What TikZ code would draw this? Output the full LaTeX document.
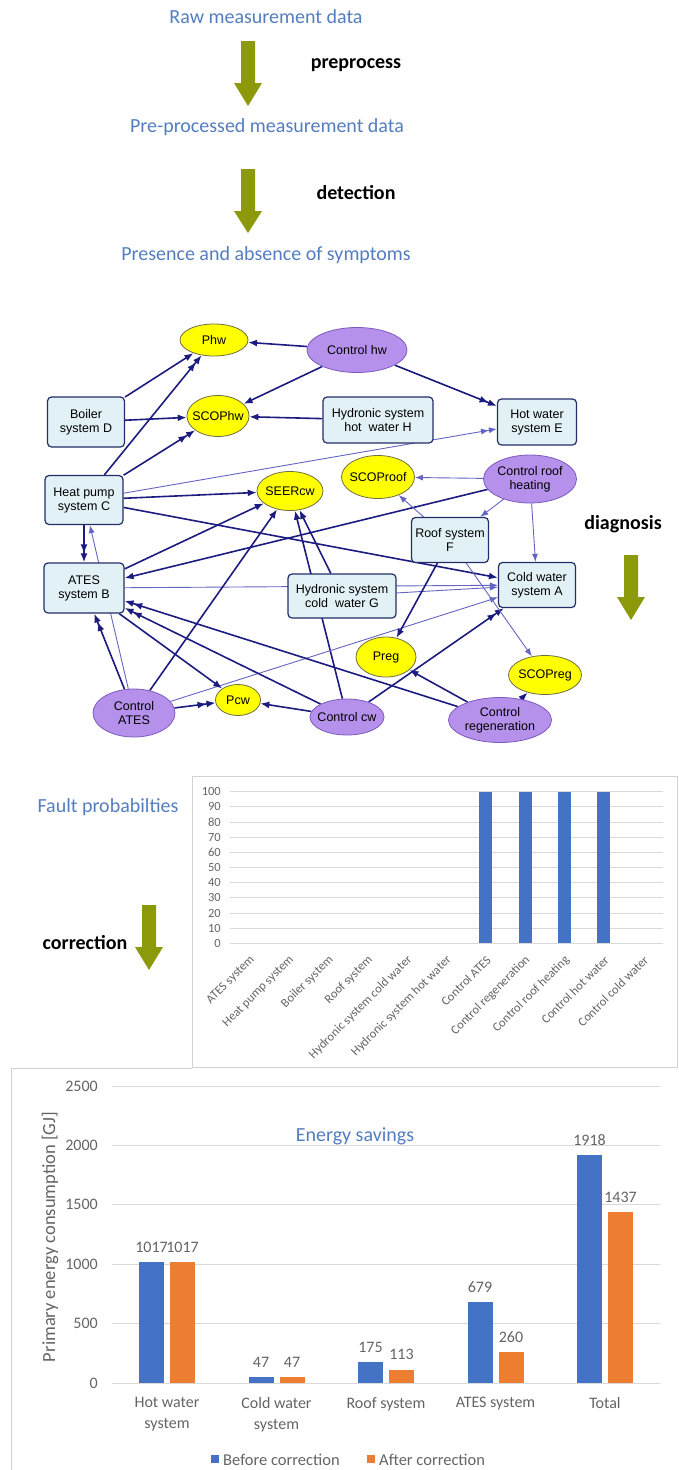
\documentclass[tikz,border=0pt]{standalone}
\usepackage{fontspec}
\setmainfont{Carlito}
\newfontfamily\arialf{Liberation Sans}
\usetikzlibrary{shapes.geometric,arrows.meta,backgrounds}
\definecolor{lblue}{RGB}{84,125,192}
\definecolor{olivec}{RGB}{140,153,10}
\definecolor{navy}{RGB}{28,28,128}
\definecolor{thinc}{RGB}{100,100,195}
\definecolor{yelfill}{RGB}{255,255,0}
\definecolor{yeldraw}{RGB}{110,110,70}
\definecolor{purfill}{RGB}{182,145,235}
\definecolor{purdraw}{RGB}{125,90,190}
\definecolor{boxfill}{RGB}{226,241,246}
\definecolor{boxdraw}{RGB}{35,45,105}
\definecolor{axgray}{RGB}{100,100,100}
\definecolor{gridc}{RGB}{217,217,217}
\definecolor{barblue}{RGB}{68,114,196}
\definecolor{barorange}{RGB}{237,125,49}
\definecolor{framec}{RGB}{210,210,210}
\newcommand\zb[1]{\makebox[0pt]{#1}}
\newcommand\olivearrow[4]{%
  \fill[olivec] (#1-7,#2) -- (#1+7,#2) -- (#1+7,#3) -- (#1+14,#3) -- (#1,#4) -- (#1-14,#3) -- (#1-7,#3) -- cycle;}
\tikzset{
  bigtxt/.style={font=\fontsize{20}{24}\selectfont, inner sep=0pt},
  bluetxt/.style={bigtxt, text=lblue},
  boldtxt/.style={font=\bfseries\fontsize{20}{24}\selectfont, inner sep=0pt},
  netfont/.style={font=\arialf\fontsize{12.5}{14}\selectfont},
  yel/.style={ellipse, draw=yeldraw, fill=yelfill, inner sep=0pt, align=center, line width=0.8pt, netfont},
  pur/.style={ellipse, draw=purdraw, fill=purfill, inner sep=0pt, align=center, line width=0.8pt, netfont},
  sysbox/.style={rectangle, rounded corners=4pt, draw=boxdraw, fill=boxfill, line width=1.2pt, align=center, inner sep=0pt, netfont},
  thk/.style={draw=navy, line width=1.6pt, -{Latex[length=9pt,width=7pt]}},
  thk2/.style={draw=navy, line width=1.6pt, -{Latex[length=9pt,width=7pt] Latex[length=9pt,width=7pt]}},
  thn/.style={draw=thinc, line width=0.9pt, -{Latex[length=8pt,width=6pt]}},
  thn2/.style={draw=thinc, line width=0.9pt, -{Latex[length=8pt,width=6pt] Latex[length=8pt,width=6pt]}},
  axlab/.style={font=\fontsize{12.5}{14}\selectfont, text=axgray, inner sep=0pt},
  exlab/.style={font=\fontsize{16}{21}\selectfont, text=axgray, inner sep=0pt},
}
\begin{document}
\begin{tikzpicture}[x=1pt,y=-1pt]
\useasboundingbox (0,0) rectangle (679,1470);
% ---------- top flow ----------
\node[bluetxt] (raw) at (266,17) {Raw measurement data};
\olivearrow{248}{41}{83}{106}
\node[boldtxt] (prep) at (356,65) {preprocess};
\node[bluetxt] (pre) at (267,127) {Pre-processed measurement data};
\olivearrow{248}{169}{211}{233}
\node[boldtxt] (det) at (356,193) {detection};
\node[bluetxt] (pres) at (266,255) {Presence and absence of symptoms};
\node[boldtxt] (diag) at (623,524) {diagnosis};
\olivearrow{631}{555}{597}{620}
% ---------- network ----------
\node[yel, minimum width=68pt, minimum height=32pt] (Phw) at (214,340) {\zb{Phw}};
\node[pur, minimum width=100pt, minimum height=45pt] (CHW) at (357,350) {\zb{Control hw}};
\node[sysbox, minimum width=77pt, minimum height=50pt] (D) at (86,422) {Boiler\\system D};
\node[yel, minimum width=62pt, minimum height=41pt] (SCOPhw) at (218,416) {\zb{SCOPhw}};
\node[sysbox, minimum width=110pt, minimum height=46pt] (H) at (378,420) {Hydronic system\\hot\ \ water H};
\node[sysbox, minimum width=79pt, minimum height=46pt] (E) at (537,422) {Hot water\\system E};
\node[sysbox, minimum width=78pt, minimum height=49pt] (C) at (84,500) {Heat pump\\system C};
\node[yel, minimum width=66pt, minimum height=39pt] (SEER) at (290,491) {\zb{SEERcw}};
\node[yel, minimum width=73pt, minimum height=43pt] (SCOProof) at (378,477) {\zb{SCOProof}};
\node[pur, minimum width=93pt, minimum height=48pt] (CRH) at (530,479) {\zb{Control roof}\\\zb{heating}};
\node[sysbox, minimum width=77pt, minimum height=45pt] (F) at (450,540) {Roof system\\F};
\node[sysbox, minimum width=80pt, minimum height=50pt] (B) at (84,588) {ATES\\system B};
\node[sysbox, minimum width=108pt, minimum height=44pt] (G) at (342,596) {Hydronic system\\cold\ \ water G};
\node[sysbox, minimum width=77pt, minimum height=45pt] (A) at (537,585) {Cold water\\system A};
\node[yel, minimum width=60pt, minimum height=40pt] (Preg) at (386,657) {\zb{Preg}};
\node[yel, minimum width=73pt, minimum height=39pt] (SCOPreg) at (545,675) {\zb{SCOPreg}};
\node[pur, minimum width=82pt, minimum height=48pt] (CA) at (134,713) {\zb{Control}\\\zb{ATES}};
\node[yel, minimum width=45pt, minimum height=31pt] (Pcw) at (238,700) {\zb{Pcw}};
\node[pur, minimum width=74pt, minimum height=36pt] (CCW) at (347,717) {\zb{Control cw}};
\node[pur, minimum width=103pt, minimum height=45pt] (CR) at (500,720) {\zb{Control}\\\zb{regeneration}};
\begin{pgfonlayer}{background}
\draw[thk] (D) -- (Phw);
\draw[thk2] (C) -- (Phw);
\draw[thk] (CHW) -- (Phw);
\draw[thk] (CHW) -- (SCOPhw);
\draw[thk] (D) -- (SCOPhw);
\draw[thk2] (C) -- (SCOPhw);
\draw[thk] (H) -- (SCOPhw);
\draw[thk2] (CHW) -- (E);
\draw[thn2] (C) -- (E);
\draw[thk] (C) -- (SEER);
\draw[thk] (C) -- (A);
\draw[thk2] (C) -- (B);
\draw[thk] (B) -- (SEER);
\draw[thk] (CRH) -- (B);
\draw[thn] (B) -- (A);
\draw[thn] (G) -- (A);
\draw[thk] (G) -- (SEER);
\draw[thk] (CCW) -- (SEER);
\draw[thk] (CA) -- (SEER);
\draw[thk2] (CA) -- (B);
\draw[thn] (CA) -- (C);
\draw[thk2] (CA) -- (Pcw);
\draw[thn] (CA) -- (A);
\draw[thk] (B) -- (Pcw);
\draw[thk2] (CR) -- (B);
\draw[thk2] (CCW) -- (B);
\draw[thk] (CCW) -- (Pcw);
\draw[thk2] (CCW) -- (A);
\draw[thk] (CR) -- (Preg);
\draw[thk] (CR) -- (SCOPreg);
\draw[thk] (F) -- (Preg);
\draw[thn] (F) -- (SCOPreg);
\draw[thn] (F) -- (SCOProof);
\draw[thn] (CRH) -- (SCOProof);
\draw[thn] (CRH) -- (F);
\draw[thn] (CRH) -- (A);
\end{pgfonlayer}
% ---------- fault probabilities ----------
\node[bluetxt] (fp) at (108,807) {Fault probabilties};
\node[boldtxt] (corr) at (85,943) {correction};
\olivearrow{149}{905}{947}{970}
\draw[framec, line width=0.8pt] (192,776) rectangle (677,1067);
\foreach \k in {0,...,10} {
  \pgfmathsetmacro\yy{943.3-15.16*\k}
  \draw[gridc, line width=0.9pt] (230,\yy) -- (663,\yy);
  \pgfmathtruncatemacro\lab{10*\k}
  \node[axlab, anchor=east] (fy\k) at (221,\yy) {\lab};
}
\foreach \i in {6,7,8,9} {
  \pgfmathsetmacro\cx{230+39.36*(\i+0.5)}
  \fill[barblue] (\cx-6.5,943.3) rectangle (\cx+6.5,791.7);
}
\foreach \i/\t in {0/ATES system,1/Heat pump system,2/Boiler system,3/Roof system,4/Hydronic system cold water,5/Hydronic system hot water,6/Control ATES,7/Control regeneration,8/Control roof heating,9/Control hot water,10/Control cold water} {
  \pgfmathsetmacro\cx{230+39.36*(\i+0.5)+3}
  \node[axlab, rotate=45, anchor=east] (fc\i) at (\cx,958) {\t};
}
% ---------- energy savings ----------
\draw[framec, line width=0.8pt] (11,1470) -- (11,1068) -- (192,1068);
\foreach \k in {0,...,5} {
  \pgfmathsetmacro\yy{1383-59.4*\k}
  \draw[gridc, line width=0.9pt] (112,\yy) -- (660,\yy);
  \pgfmathtruncatemacro\lab{500*\k}
  \node[exlab, anchor=east] (ey\k) at (98,\yy) {\lab};
}
\node[exlab, font=\fontsize{18.5}{22}\selectfont, rotate=90] (ytitle) at (50,1237) {Primary energy consumption [GJ]};
\node[bluetxt] (es) at (355,1136) {Energy savings};
\foreach \c/\b/\o/\nm in {0/1017/1017/{Hot water\\system},1/47/47/{Cold water\\system},2/175/113/{Roof system},3/679/260/{ATES system},4/1918/1437/{Total}} {
  \pgfmathsetmacro\cx{167+109.5*\c}
  \pgfmathsetmacro\hb{1383-0.1188*\b}
  \pgfmathsetmacro\ho{1383-0.1188*\o}
  \fill[barblue] (\cx-28,1383) rectangle (\cx-3,\hb);
  \fill[barorange] (\cx+3,1383) rectangle (\cx+28,\ho);
  \node[exlab, anchor=base] (vb\c) at (\cx-15.5,\hb-10) {\b};
  \node[exlab, anchor=base] (vo\c) at (\cx+15.5,\ho-10) {\o};
  \node[exlab, anchor=north, align=center] (cat\c) at (\cx,1397) {\nm};
}
\fill[barblue] (211,1455) rectangle (219,1463);
\node[exlab, font=\fontsize{16.5}{20}\selectfont, anchor=west] (lg1) at (223,1460) {Before correction};
\fill[barorange] (367,1455) rectangle (375,1463);
\node[exlab, font=\fontsize{16.5}{20}\selectfont, anchor=west] (lg2) at (379,1460) {After correction};
\end{tikzpicture}
\end{document}
